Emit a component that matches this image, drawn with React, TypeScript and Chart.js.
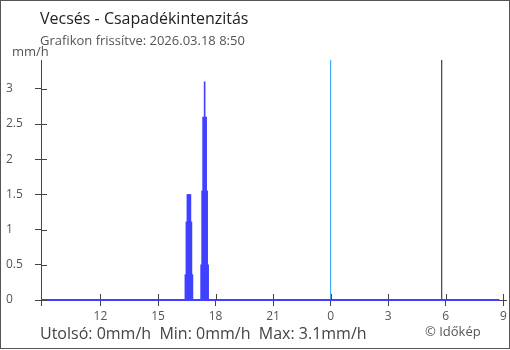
import React, { useEffect, useRef } from "react";
import { Chart, registerables } from "chart.js";

Chart.register(...registerables);

// ---- data ----
const titleText = "Vecsés - Csapadékintenzitás";
const subtitleText = "Grafikon frissítve: 2026.03.18 8:50";
const unitText = "mm/h";
const summaryText = "Utolsó: 0mm/h  Min: 0mm/h  Max: 3.1mm/h";
const creditText = "© Időkép";

// hours counted from 00:00 of the previous day (24 = midnight)
const xMin = 8.9;
const xMax = 33.14;
const xTickValues = [12, 15, 18, 21, 24, 27, 30, 33];
const xTickLabels = ["12", "15", "18", "21", "0", "3", "6", "9"];
const yTickValues = [0, 0.5, 1, 1.5, 2, 2.5, 3];
const yMax = 3.41;

const baselineTimes = [8.95, 32.8];
const baselineValues = [0, 0];

const burstTimes = [16.61, 17.43];
const burstLevel1 = [0.36, 0.5];
const burstLevel2 = [1.11, 1.55];
const burstLevel3 = [1.5, 2.6];
const burstLevel4 = [null, 3.1];

const midnightTime = 24;
const sunriseTime = 29.79;

const BLUE = "#4040ff";
const SKY = "#1e9cf0";
const AXIS = "#444444";
const TEXT = "#555555";
const FONT = "'Open Sans', 'Noto Sans', sans-serif";

const pts = (xs: number[], ys: (number | null)[]) =>
  xs.map((x, i) => ({ x, y: ys[i] }));

const overlayPlugin = {
  id: "overlay",
  afterDraw(chart: any) {
    const { ctx, chartArea, scales, width, height } = chart;
    const x = scales.x;
    const y = scales.y;
    ctx.save();
    ctx.strokeStyle = AXIS;
    ctx.lineWidth = 1;
    // inward tick parts
    y.ticks.forEach((t: any) => {
      const py = Math.round(y.getPixelForValue(t.value)) + 0.5;
      ctx.beginPath();
      ctx.moveTo(chartArea.left, py);
      ctx.lineTo(chartArea.left + 6, py);
      ctx.stroke();
    });
    x.ticks.forEach((t: any) => {
      const px = Math.round(x.getPixelForValue(t.value)) + 0.5;
      ctx.beginPath();
      ctx.moveTo(px, chartArea.bottom - 6);
      ctx.lineTo(px, chartArea.bottom);
      ctx.stroke();
    });
    const lx = Math.round(chartArea.left) + 0.5;
    ctx.beginPath();
    ctx.moveTo(lx, chartArea.bottom);
    ctx.lineTo(lx, chartArea.bottom + 6);
    ctx.stroke();

    // frame
    ctx.strokeStyle = "#555555";
    ctx.strokeRect(0.5, 0.5, width - 1, height - 2);

    // texts
    ctx.textBaseline = "alphabetic";
    ctx.textAlign = "left";
    ctx.fillStyle = "#222222";
    ctx.font = `16px ${FONT}`;
    ctx.fillText(titleText, 40, 24);
    ctx.fillStyle = TEXT;
    ctx.font = `13px ${FONT}`;
    ctx.fillText(subtitleText, 40, 45);
    ctx.font = `13px ${FONT}`;
    ctx.fillText(unitText, 12, 56);
    ctx.fillStyle = "#444444";
    ctx.font = `16px ${FONT}`;
    ctx.fillText(summaryText, 40, 339);
    ctx.fillStyle = TEXT;
    ctx.font = `13px ${FONT}`;
    ctx.fillText(creditText, 425, 336);
    ctx.restore();
  },
};

export default function App() {
  const ref = useRef<HTMLCanvasElement | null>(null);

  useEffect(() => {
    document.body.style.margin = "0";
    const canvas = ref.current;
    if (!canvas) return;
    const barDs = (data: (number | null)[], thickness: number) => ({
      type: "bar" as const,
      data: pts(burstTimes, data),
      backgroundColor: BLUE,
      borderWidth: 0,
      barThickness: thickness,
      grouped: false,
      order: 2,
    });
    const markerDs = (t: number, color: string) => ({
      type: "line" as const,
      data: [
        { x: t, y: 0 },
        { x: t, y: yMax },
      ],
      borderColor: color,
      backgroundColor: color,
      borderWidth: 1,
      pointRadius: 0,
      fill: false,
      order: 5,
    });
    const chart = new Chart(canvas, {
      type: "line",
      data: {
        datasets: [
          {
            type: "line",
            data: pts(baselineTimes, baselineValues),
            borderColor: BLUE,
            backgroundColor: BLUE,
            borderWidth: 2,
            pointRadius: 0,
            fill: false,
            clip: false,
            order: 1,
          } as any,
          barDs(burstLevel1, 8),
          barDs(burstLevel2, 6),
          barDs(burstLevel3, 4),
          barDs(burstLevel4, 1),
          markerDs(midnightTime, SKY),
          markerDs(sunriseTime, "#1a1a1a"),
        ],
      },
      options: {
        animation: false,
        responsive: false,
        devicePixelRatio: 1,
        layout: { padding: { left: 6, top: 60, right: 4, bottom: 0 } },
        plugins: {
          legend: { display: false },
          tooltip: { enabled: false },
          title: { display: false },
        },
        scales: {
          x: {
            type: "linear",
            min: xMin,
            max: xMax,
            offset: false,
            afterBuildTicks: (s: any) => {
              s.ticks = xTickValues.map((v) => ({ value: v }));
            },
            afterFit: (s: any) => {
              s.height = 50;
            },
            ticks: {
              autoSkip: false,
              maxRotation: 0,
              padding: 3,
              color: TEXT,
              font: { family: FONT, size: 12 },
              callback: (v: any) => {
                const i = xTickValues.indexOf(Number(v));
                return i >= 0 ? xTickLabels[i] : "";
              },
            },
            grid: {
              drawOnChartArea: false,
              offset: false,
              tickLength: 6,
              color: AXIS,
            },
            border: { color: AXIS },
          },
          y: {
            type: "linear",
            min: 0,
            max: yMax,
            afterBuildTicks: (s: any) => {
              s.ticks = yTickValues.map((v) => ({ value: v }));
            },
            afterFit: (s: any) => {
              s.width = 35;
            },
            ticks: {
              crossAlign: "far",
              color: TEXT,
              font: { family: FONT, size: 12 },
              callback: (v: any) => String(v),
            },
            grid: {
              drawOnChartArea: false,
              tickLength: 6,
              color: AXIS,
            },
            border: { color: AXIS },
          },
        },
      },
      plugins: [overlayPlugin],
    });
    return () => chart.destroy();
  }, []);

  return <canvas ref={ref} width={510} height={350} style={{ display: "block" }} />;
}
